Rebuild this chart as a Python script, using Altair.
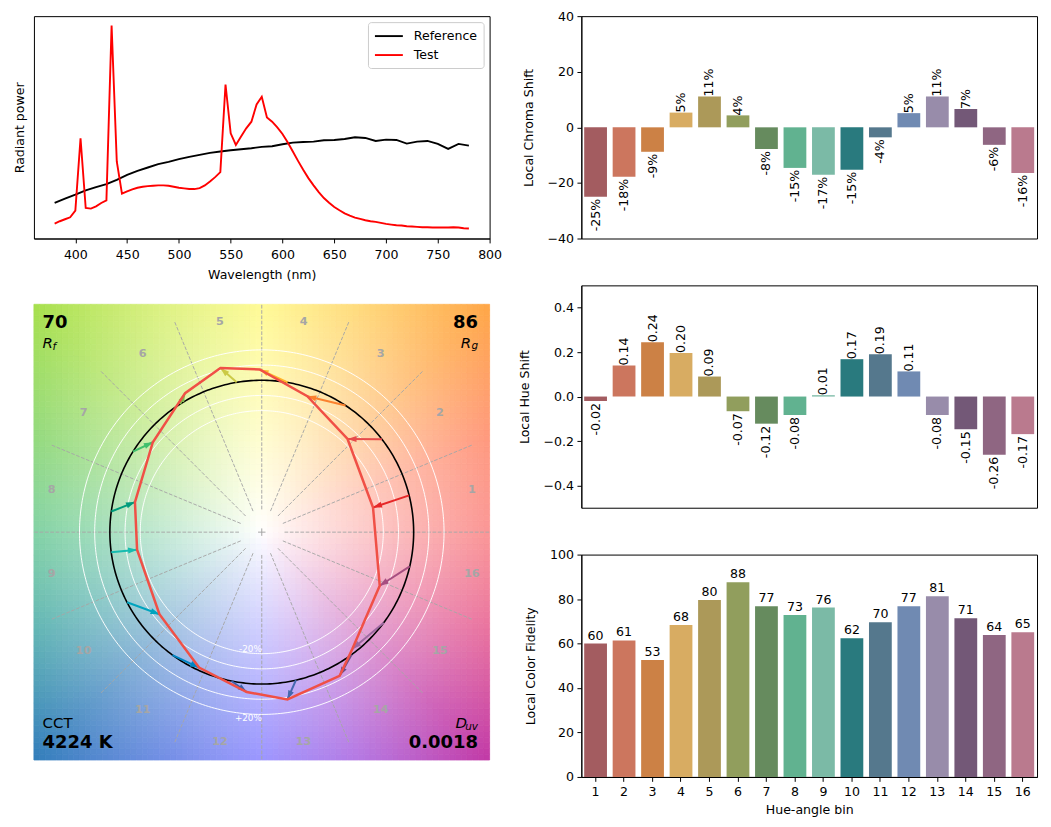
import math
import numpy as np
import pandas as pd
import altair as alt

# ---------------- data ----------------
bins = list(range(1, 17))
chroma_shift = [-25.0, -17.8, -8.8, 5.3, 11.1, 4.3, -7.8, -14.6, -17.1, -15.3, -3.6, 5.1, 11.1, 6.6, -6.3, -16.4]
hue_shift = [-0.02, 0.14, 0.244, 0.196, 0.09, -0.066, -0.122, -0.083, 0.006, 0.168, 0.19, 0.113, -0.083, -0.147, -0.262, -0.169]
local_fidelity = [60.0, 61.4, 52.6, 68.3, 79.6, 87.6, 76.8, 72.8, 76.2, 62.4, 69.6, 76.8, 81.3, 71.4, 63.8, 65.1]
avg_hue_deg = [14.0, 37.7, 56.5, 80.2, 99.5, 122.5, 148.0, 172.2, 187.6, 207.5, 234.0, 258.5, 283.0, 306.3, 323.4, 347.0]
bin_colours = ["#A35C60", "#CC765E", "#CC8145", "#D8AC62", "#AC9959", "#919E5D", "#668B5E", "#61B290",
               "#7BBAA6", "#297A7E", "#55788D", "#708AB2", "#988CAA", "#735877", "#8F6682", "#BA7A8E"]
arrow_colours = ["#E62828", "#E74B4B", "#FB812E", "#FFB529", "#CBCA46", "#7EB94C", "#41C06D", "#009C7C",
                 "#16BCB0", "#00A4BF", "#0085C3", "#3B62AA", "#4568AE", "#6A4E85", "#9D69A1", "#A74F81"]

R_f_text = "70"
R_g_text = "86"
CCT_text = "4224 K"
D_uv_text = "0.0018"

wl_ref = list(range(380, 781, 10))
ref_power = [107, 120, 132, 145, 155, 164, 177, 192, 204, 214, 224, 231, 239, 246, 252, 258, 262, 266, 269, 272,
             276, 278, 284, 289, 291, 292, 296, 297, 300, 305, 303, 294, 298, 297, 286, 292, 294, 285, 270, 285, 280]
wl_test = list(range(380, 781, 5))
test_power = [45, 52, 58, 64, 84, 302, 92, 90, 97, 107, 115, 642, 232, 135, 142, 148, 153, 156, 158, 159,
              160, 160, 159, 156, 153, 151, 149, 149, 152, 160, 172, 185, 200, 464, 317, 282, 307, 332, 352, 404,
              427, 365, 352, 335, 315, 290, 262, 234, 207, 182, 160, 140, 122, 108, 95, 85, 76, 69, 63, 59,
              55, 52, 50, 47, 44, 42, 40, 39, 37, 36, 35, 34, 34, 33, 33, 33, 33, 34, 33, 31, 30]

# background palette of the colour vector graphic (hue anchors every 22.5 deg)
bg_anchor = [(250, 150, 150), (255, 160, 135), (255, 190, 120), (255, 222, 135), (255, 250, 150), (225, 243, 140),
             (190, 232, 125), (155, 220, 135), (130, 210, 165), (110, 188, 185), (105, 160, 205), (125, 150, 232),
             (155, 150, 255), (185, 130, 230), (210, 110, 190), (235, 125, 165)]

FONT = "DejaVu Sans"
FS = 12.6
GREY = "#A6A6A6"

# ---------------- spectrum ----------------
spec_df = pd.concat([
    pd.DataFrame({"wl": wl_ref, "p": ref_power, "s": "Reference"}),
    pd.DataFrame({"wl": wl_test, "p": test_power, "s": "Test"}),
], ignore_index=True)

spectrum = alt.Chart(spec_df).mark_line(strokeWidth=1.9).encode(
    x=alt.X("wl:Q", scale=alt.Scale(domain=[360, 800], nice=False, zero=False),
            axis=alt.Axis(values=list(range(400, 801, 50)), title="Wavelength (nm)", labelPadding=5.5, titlePadding=8)),
    y=alt.Y("p:Q", scale=alt.Scale(domain=[0, 670], nice=False),
            axis=alt.Axis(title="Radiant power", labels=False, ticks=False, domain=False, titlePadding=7)),
    color=alt.Color("s:N", scale=alt.Scale(domain=["Reference", "Test"], range=["black", "red"]),
                    legend=alt.Legend(title=None, orient="top-right", offset=6, fillColor="white",
                                      strokeColor="#cccccc", cornerRadius=3, padding=6, rowPadding=4,
                                      labelFontSize=FS, labelOffset=24, symbolType="M-1,0L3,0", symbolSize=196,
                                      symbolStrokeWidth=1.9)),
    detail="s:N",
).properties(width=457, height=223)

# ---------------- colour vector graphic ----------------
cs = alt.Scale(domain=[-1.5, 1.5], nice=False, zero=False)


def CX(f):
    return alt.X(f"{f}:Q", scale=cs, axis=None)


def CY(f):
    return alt.Y(f"{f}:Q", scale=cs, axis=None)


def hexc(c):
    return "#%02x%02x%02x" % tuple(int(round(max(0, min(255, v)))) for v in c)


N = 80
edges = np.linspace(-1.5, 1.5, N + 1)
bg_rows = []
for i in range(N):
    for j in range(N):
        cx = (edges[i] + edges[i + 1]) / 2
        cy = (edges[j] + edges[j + 1]) / 2
        th = math.degrees(math.atan2(cy, cx)) % 360
        r = math.hypot(cx, cy)
        k = th / 22.5
        i0 = int(k) % 16
        t = k - int(k)
        a = [bg_anchor[i0][c] * (1 - t) + bg_anchor[(i0 + 1) % 16][c] * t for c in range(3)]
        f = (r / 1.5) ** 0.9
        col = [255 + (a[c] - 255) * f for c in range(3)]
        bg_rows.append({"x": float(edges[i]), "x2": float(edges[i + 1]), "y": float(edges[j]),
                        "y2": float(edges[j + 1]), "c": hexc(col)})
bg_df = pd.DataFrame(bg_rows)

background = alt.Chart(bg_df).mark_rect(strokeWidth=0.8).encode(
    x=CX("x"), x2="x2:Q", y=CY("y"), y2="y2:Q",
    color=alt.Color("c:N", scale=None), stroke=alt.Stroke("c:N", scale=None))

div_rows = []
for i in range(16):
    a = 2 * math.pi * i / 16
    div_rows.append({"x": 0.15 * math.cos(a), "y": 0.15 * math.sin(a), "x2": 1.5 * math.cos(a), "y2": 1.5 * math.sin(a)})
dividers = alt.Chart(pd.DataFrame(div_rows)).mark_rule(color=GREY, strokeWidth=0.95, strokeDash=[3.7, 1.6]).encode(
    x=CX("x"), y=CY("y"), x2="x2:Q", y2="y2:Q")

centre = alt.Chart(pd.DataFrame({"x": [0.0], "y": [0.0]})).mark_point(
    shape="M-1,0L1,0M0,-1L0,1", size=56, filled=False, color=GREY, strokeWidth=1, opacity=1).encode(
    x=CX("x"), y=CY("y"))

lab_rows = []
for i in range(16):
    a = 2 * math.pi * (i + 0.5) / 16
    lab_rows.append({"x": 1.41 * math.cos(a), "y": 1.41 * math.sin(a), "t": str(i + 1)})
bin_labels = alt.Chart(pd.DataFrame(lab_rows)).mark_text(
    color=GREY, fontWeight="bold", fontSize=11.3, align="center", baseline="middle").encode(
    x=CX("x"), y=CY("y"), text="t:N")

circ_rows = []
for ring in [1.0, 0.8, 0.9, 1.1, 1.2]:
    for k in range(361):
        a = math.radians(k)
        circ_rows.append({"ring": ring, "k": k, "x": ring * math.cos(a), "y": ring * math.sin(a)})
circ_df = pd.DataFrame(circ_rows)
white_circles = alt.Chart(circ_df).transform_filter("datum.ring != 1").mark_line(
    color="white", strokeWidth=0.95).encode(x=CX("x"), y=CY("y"), detail="ring:N", order="k:Q")
black_circle = alt.Chart(circ_df).transform_filter("datum.ring == 1").mark_line(
    color="black", strokeWidth=1.6).encode(x=CX("x"), y=CY("y"), order="k:Q")

pct_minus = alt.Chart(pd.DataFrame({"x": [0.0], "y": [-0.8], "t": ["-20%"]})).mark_text(
    color="white", fontSize=8.8, align="right", baseline="bottom").encode(x=CX("x"), y=CY("y"), text="t:N")
pct_plus = alt.Chart(pd.DataFrame({"x": [0.0], "y": [-1.2], "t": ["+20%"]})).mark_text(
    color="white", fontSize=8.8, align="right", baseline="top").encode(x=CX("x"), y=CY("y"), text="t:N")

arr_rows = []
for i in range(16):
    h = math.radians(avg_hue_deg[i])
    c = chroma_shift[i] / 100.0
    s = hue_shift[i]
    rx, ry = math.cos(h), math.sin(h)
    tx = (1 + c) * rx - s * ry
    ty = (1 + c) * ry + s * rx
    ang = math.degrees(math.atan2(tx - rx, ty - ry)) % 360
    arr_rows.append({"bin": i + 1, "rx": rx, "ry": ry, "tx": tx, "ty": ty, "ang": ang, "col": arrow_colours[i]})
arr_df = pd.DataFrame(arr_rows)

shafts = alt.Chart(arr_df).mark_rule(strokeWidth=2).encode(
    x=CX("rx"), y=CY("ry"), x2="tx:Q", y2="ty:Q", color=alt.Color("col:N", scale=None))
heads = alt.Chart(arr_df).mark_point(shape="M0,0L-0.667,2L0.667,2Z", size=81, filled=True, opacity=1,
                                     strokeWidth=0).encode(
    x=CX("tx"), y=CY("ty"), angle=alt.Angle("ang:Q", scale=None), color=alt.Color("col:N", scale=None))

poly_df = pd.concat([arr_df, arr_df.iloc[[0]]], ignore_index=True)
poly_df["k"] = range(len(poly_df))
polygon = alt.Chart(poly_df).mark_line(color="#F05046", strokeWidth=2.5).encode(
    x=CX("tx"), y=CY("ty"), order="k:Q")


def ctext(x, y, text, align, size, weight="normal", style="normal", dx=0, dy=0):
    return alt.Chart(pd.DataFrame({"x": [x], "y": [y], "t": [text]})).mark_text(
        align=align, baseline="alphabetic", fontSize=size, fontWeight=weight, fontStyle=style,
        dx=dx, dy=dy, color="black").encode(x=CX("x"), y=CY("y"), text="t:N")


corner = [
    ctext(-1.45, 1.45, R_f_text, "left", 18, weight="bold", dx=1, dy=16),
    ctext(-1.45, 1.45, "R", "left", 15, style="italic", dx=1, dy=36),
    ctext(-1.45, 1.45, "f", "left", 10.5, style="italic", dx=11, dy=38),
    ctext(1.45, 1.45, R_g_text, "right", 18, weight="bold", dx=-4, dy=16),
    ctext(1.45, 1.45, "R", "right", 15, style="italic", dx=-11, dy=36),
    ctext(1.45, 1.45, "g", "right", 10.5, style="italic", dx=-4, dy=37),
    ctext(-1.45, -1.45, "CCT", "left", 15, dx=1, dy=-24),
    ctext(-1.45, -1.45, CCT_text, "left", 18, weight="bold", dx=1, dy=-4),
    ctext(1.45, -1.45, "D", "right", 15, style="italic", dx=-15, dy=-24),
    ctext(1.45, -1.45, "uv", "right", 10.5, style="italic", dx=-4, dy=-22),
    ctext(1.45, -1.45, D_uv_text, "right", 18, weight="bold", dx=-4, dy=-4),
]

cvg = alt.layer(background, dividers, centre, bin_labels, white_circles, black_circle, pct_minus, pct_plus,
                shafts, heads, polygon, *corner).properties(
    width=457, height=457, view=alt.ViewBackground(stroke="transparent"))

# ---------------- bar charts ----------------
bar_df = pd.DataFrame({
    "bin": bins,
    "chroma": chroma_shift,
    "hue": hue_shift,
    "fid": local_fidelity,
    "col": bin_colours,
    "clab": [f"{v:.0f}%" for v in chroma_shift],
    "hlab": [f"{v:.2f}" for v in hue_shift],
    "flab": [f"{v:.0f}" for v in local_fidelity],
})
band = alt.Scale(paddingInner=0.2, paddingOuter=0.1)
x_hidden = alt.X("bin:O", scale=band, axis=None)
base = alt.Chart(bar_df)


def shift_panel(field, lab, domain, ticks, fmt, title):
    ysc = alt.Scale(domain=domain, nice=False, zero=False)
    bars = base.mark_bar().encode(
        x=x_hidden,
        y=alt.Y(f"{field}:Q", scale=ysc, axis=alt.Axis(values=ticks, format=fmt, title=title, titlePadding=12)),
        color=alt.Color("col:N", scale=None))
    pos = base.transform_filter(f"datum.{field} >= 0").mark_text(
        angle=270, align="left", baseline="middle", fontSize=FS, dx=0, color="black").encode(
        x=x_hidden, y=alt.Y(f"{field}:Q", scale=ysc), text=f"{lab}:N")
    neg = base.transform_filter(f"datum.{field} < 0").mark_text(
        angle=270, align="right", baseline="middle", fontSize=FS, dx=-2, color="black").encode(
        x=x_hidden, y=alt.Y(f"{field}:Q", scale=ysc), text=f"{lab}:N")
    return alt.layer(bars, pos, neg).properties(width=457, height=223)


chroma_chart = shift_panel("chroma", "clab", [-40, 40], list(range(-40, 41, 10)), "d", "Local Chroma Shift")
hue_chart = shift_panel("hue", "hlab", [-0.5, 0.5], [-0.4, -0.2, 0.0, 0.2, 0.4], ".1f", "Local Hue Shift")

fsc = alt.Scale(domain=[0, 100], nice=False)
x_bins = alt.X("bin:O", scale=band, axis=alt.Axis(title="Hue-angle bin", labelAngle=0, labelPadding=4.2, titlePadding=5))
fid_bars = base.mark_bar().encode(
    x=x_bins,
    y=alt.Y("fid:Q", scale=fsc, axis=alt.Axis(values=list(range(0, 101, 20)), title="Local Color Fidelity", titlePadding=12)),
    color=alt.Color("col:N", scale=None))
fid_text = base.mark_text(baseline="bottom", align="center", fontSize=FS, dy=-1, color="black").encode(
    x=x_bins, y=alt.Y("fid:Q", scale=fsc), text="flab:N")
fid_chart = alt.layer(fid_bars, fid_text).properties(width=457, height=223)

left = alt.vconcat(spectrum, cvg, spacing=21).resolve_scale(color="independent").resolve_legend(color="independent")
lower_right = alt.vconcat(hue_chart, fid_chart, spacing=39).resolve_scale(color="independent")
right = alt.vconcat(chroma_chart, lower_right, spacing=38).resolve_scale(color="independent")

chart = alt.hconcat(left, right, spacing=15).resolve_scale(color="independent").resolve_legend(
    color="independent").properties(
    padding={"left": 5, "top": 0, "right": 5, "bottom": 0}
).configure(font=FONT).configure_view(stroke="black", strokeWidth=1).configure_axis(
    labelFontSize=FS, titleFontSize=FS, titleFontWeight="normal", labelColor="black", titleColor="black",
    tickColor="black", domainColor="black", tickSize=4.4, grid=False, labelPadding=3.5, labelFlush=False
).configure_text(font=FONT)

chart.save("out.html", embed_options={"renderer": "svg", "actions": False})
